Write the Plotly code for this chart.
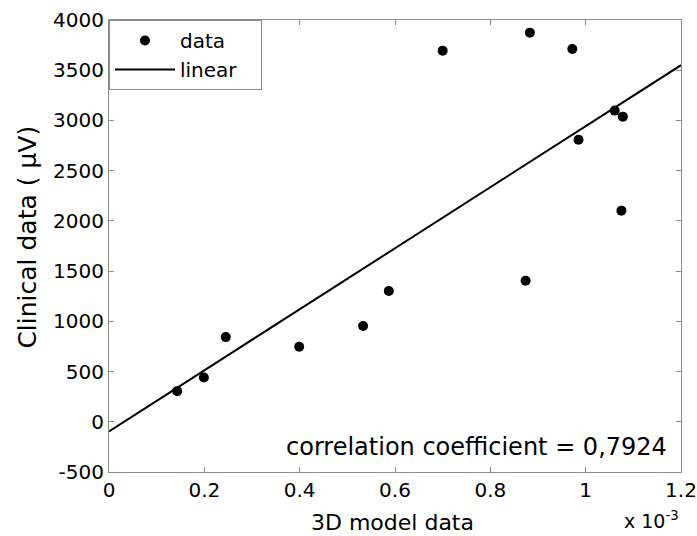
import plotly.graph_objects as go

# x values in units of 1e-3
data_x = [0.143, 0.199, 0.245, 0.399, 0.533, 0.587, 0.874, 0.700, 0.883, 0.972, 0.985, 1.061, 1.078, 1.075]
data_y = [305, 441, 843, 747, 953, 1302, 1404, 3695, 3874, 3712, 2809, 3098, 3038, 2102]
linear_x = [0.0, 1.2]
linear_y = [-95, 3550]
x_ticks = [0, 0.2, 0.4, 0.6, 0.8, 1.0, 1.2]
x_tick_labels = ["0", "0.2", "0.4", "0.6", "0.8", "1", "1.2"]
y_ticks = [-500, 0, 500, 1000, 1500, 2000, 2500, 3000, 3500, 4000]
y_tick_labels = ["-500", "0", "500", "1000", "1500", "2000", "2500", "3000", "3500", "4000"]

font = "DejaVu Sans, sans-serif"

fig = go.Figure()
fig.add_trace(go.Scatter(x=data_x, y=data_y, mode="markers", name="data",
                         marker=dict(color="black", size=10)))
fig.add_trace(go.Scatter(x=linear_x, y=linear_y, mode="lines", name="linear\u00a0\u00a0\u00a0",
                         line=dict(color="black", width=2)))

axis_common = dict(showgrid=False, zeroline=False, showline=True, linecolor="#8c8c8c",
                   linewidth=1, mirror="ticks", ticks="inside", ticklen=5,
                   tickcolor="#8c8c8c", automargin=False,
                   tickfont=dict(size=20, color="black", family=font))

fig.update_layout(
    width=697, height=536,
    margin=dict(l=109, r=16, t=20, b=64),
    paper_bgcolor="white", plot_bgcolor="white",
    font=dict(family=font, color="black"),
    xaxis=dict(range=[0, 1.2], tickvals=x_ticks, ticktext=x_tick_labels, **axis_common),
    yaxis=dict(range=[-500, 4000], tickvals=y_ticks, ticktext=y_tick_labels, **axis_common),
    legend=dict(x=0, y=1, xanchor="left", yanchor="top", bordercolor="#8c8c8c",
                borderwidth=1, bgcolor="white", font=dict(size=20, family=font),
                itemwidth=60, tracegroupgap=0),
    showlegend=True,
    annotations=[
        dict(text="3D model data", xref="paper", yref="paper",
             x=(392 - 109) / 572, y=-(522 - 472) / 452, xanchor="center", yanchor="middle",
             showarrow=False, font=dict(size=22, family=font, color="black")),
        dict(text="Clinical data ( µV)", xref="paper", yref="paper", textangle=-90,
             x=-0.143, y=0.519, xanchor="center", yanchor="middle", showarrow=False,
             font=dict(size=25, family=font, color="black")),
        dict(text="correlation coefficient = 0,7924", xref="paper", yref="paper",
             x=(669 - 109) / 572, y=(472 - 447) / 452, xanchor="right", yanchor="middle",
             showarrow=False, font=dict(size=24, family=font, color="black")),
        dict(text="x 10<sup>-3</sup>", xref="paper", yref="paper",
             x=(681 - 109) / 572, y=-(520 - 472) / 452, xanchor="right", yanchor="middle",
             showarrow=False, font=dict(size=19, family=font, color="black")),
    ],
)

fig.write_html("out.html", config={"displayModeBar": False},
               post_script="document.body.style.margin='0';document.body.style.overflow='hidden';")
